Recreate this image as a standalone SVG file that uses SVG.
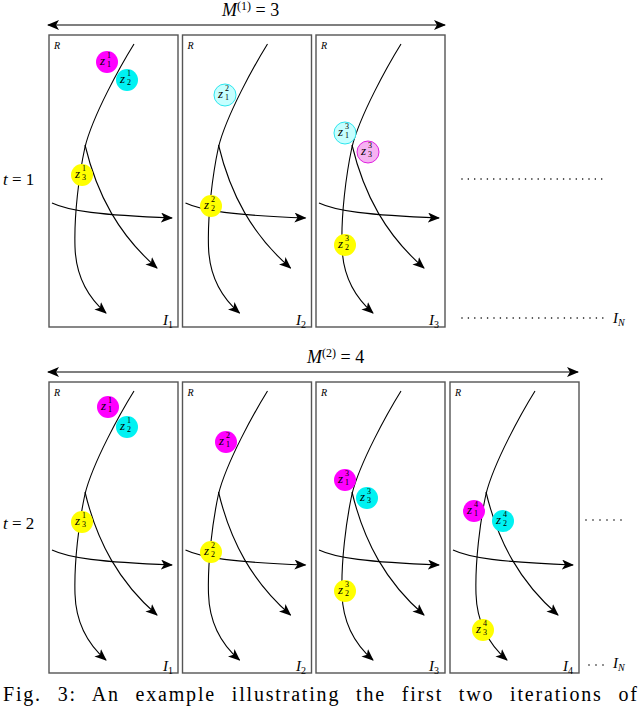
<svg xmlns="http://www.w3.org/2000/svg" width="640" height="706" viewBox="0 0 640 706">
<style>
.frame{fill:none;stroke:#555;stroke-width:1.4}
.traj{fill:none;stroke:#000;stroke-width:1.1;marker-end:url(#stealth)}
.it{font-style:italic}
.zl{font-style:italic;font-size:13px}
.sm{font-size:8px}
.rl{font-size:10px;font-style:italic}
.mag{fill:#ff00ff}
.cyn{fill:#00f2f2}
.yel{fill:#ffff00}
.pcyn{fill:#c6ffff;stroke:#2ee6ee;stroke-width:1}
.pmag{fill:#f6b2f2;stroke:#e020e0;stroke-width:1}
.dots{stroke:#000;stroke-width:1.6;stroke-linecap:round;fill:none}
.mline{stroke:#000;stroke-width:1.2;fill:none;marker-start:url(#stealthS);marker-end:url(#stealth)}
</style>
<defs>
<marker id="stealth" viewBox="0 0 12 10" refX="11" refY="5" markerUnits="userSpaceOnUse" markerWidth="12" markerHeight="10" orient="auto">
<path d="M0,0 L12,5 L0,10 L3,5 Z" fill="#000"/>
</marker>
<marker id="stealthS" viewBox="0 0 12 10" refX="11" refY="5" markerUnits="userSpaceOnUse" markerWidth="12" markerHeight="10" orient="auto-start-reverse">
<path d="M0,0 L12,5 L0,10 L3,5 Z" fill="#000"/>
</marker>
<g id="trajs">
<path class="traj" d="M85,9 C72,30 44,80 36,112 C30,140 25,180 26,212 C27,245 42,265 57,278"/>
<path class="traj" d="M36,110 C48,160 70,200 108,233"/>
<path class="traj" d="M3,168 C20,176 50,180 123,183"/>
</g>
</defs>

<g font-family="Liberation Serif, DejaVu Serif, serif" fill="#000">
<!-- headers -->
<g id="m1">
<path class="mline" d="M48,25 H445"/>
<text x="222" y="16" font-size="18"><tspan class="it">M</tspan><tspan font-size="12" dy="-6">(1)</tspan><tspan dy="6"> = 3</tspan></text>
</g>
<g id="m2">
<path class="mline" d="M48,372 H578"/>
<text x="307" y="363" font-size="18"><tspan class="it">M</tspan><tspan font-size="12" dy="-6">(2)</tspan><tspan dy="6"> = 4</tspan></text>
</g>
<text x="3" y="185" font-size="17"><tspan class="it">t</tspan> = 1</text>
<text x="3" y="529" font-size="17"><tspan class="it">t</tspan> = 2</text>

<!-- connectors (trajectories) -->
<g id="connectors">
<use href="#trajs" transform="translate(49,35)"/>
<use href="#trajs" transform="translate(182.5,35)"/>
<use href="#trajs" transform="translate(316,35)"/>
<use href="#trajs" transform="translate(49,382)"/>
<use href="#trajs" transform="translate(182.5,382)"/>
<use href="#trajs" transform="translate(316,382)"/>
<use href="#trajs" transform="translate(450,382)"/>
</g>

<!-- top row -->
<g id="t1p1">
<rect class="frame" x="49" y="35" width="129" height="292"/>
<text class="rl" x="54" y="49">R</text>
<text x="163" y="325" font-size="15"><tspan class="it">I</tspan><tspan font-size="10" dy="3">1</tspan></text>
<g id="t1p1z1"><circle class="mag" cx="107" cy="62" r="11"/><text class="zl" x="100" y="65">z</text><text class="sm" x="107" y="58">1</text><text class="sm" x="107" y="67">1</text></g>
<g id="t1p1z2"><circle class="cyn" cx="127" cy="80" r="11"/><text class="zl" x="120" y="83">z</text><text class="sm" x="127" y="76">1</text><text class="sm" x="127" y="85">2</text></g>
<g id="t1p1z3"><circle class="yel" cx="82" cy="175" r="11"/><text class="zl" x="75" y="178">z</text><text class="sm" x="82" y="171">1</text><text class="sm" x="82" y="180">3</text></g>
</g>
<g id="t1p2">
<rect class="frame" x="182.5" y="35" width="129" height="292"/>
<text class="rl" x="187.5" y="49">R</text>
<text x="296" y="325" font-size="15"><tspan class="it">I</tspan><tspan font-size="10" dy="3">2</tspan></text>
<g id="t1p2z1"><circle class="pcyn" cx="225" cy="95" r="11"/><text class="zl" x="218" y="98">z</text><text class="sm" x="225" y="91">2</text><text class="sm" x="225" y="100">1</text></g>
<g id="t1p2z2"><circle class="yel" cx="211" cy="206" r="11"/><text class="zl" x="204" y="209">z</text><text class="sm" x="211" y="202">2</text><text class="sm" x="211" y="211">2</text></g>
</g>
<g id="t1p3">
<rect class="frame" x="316" y="35" width="129" height="292"/>
<text class="rl" x="321" y="49">R</text>
<text x="429" y="325" font-size="15"><tspan class="it">I</tspan><tspan font-size="10" dy="3">3</tspan></text>
<g id="t1p3z1"><circle class="pcyn" cx="345" cy="133" r="11"/><text class="zl" x="338" y="136">z</text><text class="sm" x="345" y="129">3</text><text class="sm" x="345" y="138">1</text></g>
<g id="t1p3z3"><circle class="pmag" cx="368" cy="152" r="11"/><text class="zl" x="361" y="155">z</text><text class="sm" x="368" y="148">3</text><text class="sm" x="368" y="157">3</text></g>
<g id="t1p3z2"><circle class="yel" cx="345" cy="245" r="11"/><text class="zl" x="338" y="248">z</text><text class="sm" x="345" y="241">3</text><text class="sm" x="345" y="250">2</text></g>
</g>
<path class="dots" d="M462,179 H608" stroke-dasharray="0 6.35"/>
<path class="dots" d="M462,318 H603" stroke-dasharray="0 6.4"/>
<text x="613" y="323" font-size="15"><tspan class="it">I</tspan><tspan class="it" font-size="10" dy="3">N</tspan></text>

<!-- bottom row -->
<g id="t2p1">
<rect class="frame" x="49" y="382" width="129" height="291"/>
<text class="rl" x="54" y="396">R</text>
<text x="163" y="671" font-size="15"><tspan class="it">I</tspan><tspan font-size="10" dy="3">1</tspan></text>
<g id="t2p1z1"><circle class="mag" cx="108" cy="407" r="11"/><text class="zl" x="101" y="410">z</text><text class="sm" x="108" y="403">1</text><text class="sm" x="108" y="412">1</text></g>
<g id="t2p1z2"><circle class="cyn" cx="127" cy="427" r="11"/><text class="zl" x="120" y="430">z</text><text class="sm" x="127" y="423">1</text><text class="sm" x="127" y="432">2</text></g>
<g id="t2p1z3"><circle class="yel" cx="82" cy="522" r="11"/><text class="zl" x="75" y="525">z</text><text class="sm" x="82" y="518">1</text><text class="sm" x="82" y="527">3</text></g>
</g>
<g id="t2p2">
<rect class="frame" x="182.5" y="382" width="129" height="291"/>
<text class="rl" x="187.5" y="396">R</text>
<text x="296" y="671" font-size="15"><tspan class="it">I</tspan><tspan font-size="10" dy="3">2</tspan></text>
<g id="t2p2z1"><circle class="mag" cx="226" cy="442" r="11"/><text class="zl" x="219" y="445">z</text><text class="sm" x="226" y="438">2</text><text class="sm" x="226" y="447">1</text></g>
<g id="t2p2z2"><circle class="yel" cx="211" cy="552" r="11"/><text class="zl" x="204" y="555">z</text><text class="sm" x="211" y="548">2</text><text class="sm" x="211" y="557">2</text></g>
</g>
<g id="t2p3">
<rect class="frame" x="316" y="382" width="129" height="291"/>
<text class="rl" x="321" y="396">R</text>
<text x="429" y="671" font-size="15"><tspan class="it">I</tspan><tspan font-size="10" dy="3">3</tspan></text>
<g id="t2p3z1"><circle class="mag" cx="345" cy="480" r="11"/><text class="zl" x="338" y="483">z</text><text class="sm" x="345" y="476">3</text><text class="sm" x="345" y="485">1</text></g>
<g id="t2p3z3"><circle class="cyn" cx="367" cy="498" r="11"/><text class="zl" x="360" y="501">z</text><text class="sm" x="367" y="494">3</text><text class="sm" x="367" y="503">3</text></g>
<g id="t2p3z2"><circle class="yel" cx="345" cy="591" r="11"/><text class="zl" x="338" y="594">z</text><text class="sm" x="345" y="587">3</text><text class="sm" x="345" y="596">2</text></g>
</g>
<g id="t2p4">
<rect class="frame" x="450" y="382" width="129" height="291"/>
<text class="rl" x="455" y="396">R</text>
<text x="563" y="671" font-size="15"><tspan class="it">I</tspan><tspan font-size="10" dy="3">4</tspan></text>
<g id="t2p4z1"><circle class="mag" cx="474" cy="511" r="11"/><text class="zl" x="467" y="514">z</text><text class="sm" x="474" y="507">4</text><text class="sm" x="474" y="516">1</text></g>
<g id="t2p4z2"><circle class="cyn" cx="503" cy="521" r="11"/><text class="zl" x="496" y="524">z</text><text class="sm" x="503" y="517">4</text><text class="sm" x="503" y="526">2</text></g>
<g id="t2p4z3"><circle class="yel" cx="483" cy="630" r="11"/><text class="zl" x="476" y="633">z</text><text class="sm" x="483" y="626">4</text><text class="sm" x="483" y="635">3</text></g>
</g>
<path class="dots" d="M586,520 H628" stroke-dasharray="0 7"/>
<path class="dots" d="M589,665 H610" stroke-dasharray="0 7"/>
<text x="613" y="668" font-size="15"><tspan class="it">I</tspan><tspan class="it" font-size="10" dy="3">N</tspan></text>

<text x="3" y="701" font-size="20" word-spacing="9" textLength="634" lengthAdjust="spacing">Fig. 3: An example illustrating the first two iterations of</text>
</g>
</svg>
